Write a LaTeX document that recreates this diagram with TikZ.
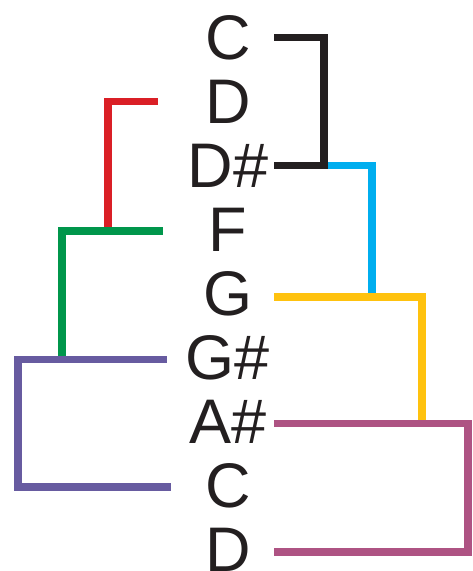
\documentclass[tikz,border=0pt]{standalone}
\usepackage{fontspec}
\setmainfont{Liberation Sans}
\usepackage{xcolor}
\usetikzlibrary{positioning}

\definecolor{linkblack}{HTML}{231F20}
\definecolor{linkblue}{HTML}{00AEEF}
\definecolor{linkyellow}{HTML}{FFC20E}
\definecolor{linkmagenta}{HTML}{AE5383}
\definecolor{linkred}{HTML}{DA1F26}
\definecolor{linkgreen}{HTML}{00964B}
\definecolor{linkpurple}{HTML}{675BA0}

\begin{document}
\begin{tikzpicture}[
		x=1pt, y=-1pt,
		node distance=18.7pt,
		note/.style={
			inner sep=0pt,
			minimum width=92pt,
			text height=45pt,
			text depth=0pt,
			text=linkblack,
			font=\fontsize{63}{63}\selectfont
		},
		link/.style={line width=7.5pt}
		]
		
		\useasboundingbox (0,0) rectangle (472,571);
		
		\node[note] (c1) at (228,36.5) {C};
		\node[note,below=of c1] (d1) {D};
		\node[note,below=of d1] (ds) {D\#};
		\node[note,below=of ds] (f) {F};
		\node[note,below=of f] (g) {G};
		\node[note,below=of g] (gs) {G\#};
		\node[note,below=of gs] (as) {A\#};
		\node[note,below=of as] (c2) {C};
		\node[note,below=of c2] (d2) {D};
		
		% right side
		\draw[link,linkblue] ([yshift=-1pt]ds.east) -| ([xshift=98pt,yshift=-4pt]g.east);
		\draw[link,linkblack] ([yshift=-1pt]c1.east) -- ++(50,0) |- ([yshift=-1pt]ds.east);
		\draw[link,linkyellow] ([yshift=-4pt]g.east) -- ++(148,0) |- ([yshift=-2.5pt]as.east);
		\draw[link,linkmagenta] ([yshift=-2.5pt]as.east) -- ++(194,0) |- ([yshift=-2.5pt]d2.east);
		
		% left side
		\draw[link,linkred] ([xshift=-24pt,yshift=-1pt]d1.west) -- ++(-50,0) |- ([xshift=-19pt,yshift=-2pt]f.west);
		\draw[link,linkgreen] ([xshift=-19pt,yshift=-2pt]f.west) -- ++(-101,0) |- ([xshift=-15pt,yshift=-2.5pt]gs.west);
		\draw[link,linkpurple] ([xshift=-15pt,yshift=-2.5pt]gs.west) -- ++(-149,0) |- ([xshift=-11pt,yshift=-2pt]c2.west);
		
	\end{tikzpicture}
\end{document}
